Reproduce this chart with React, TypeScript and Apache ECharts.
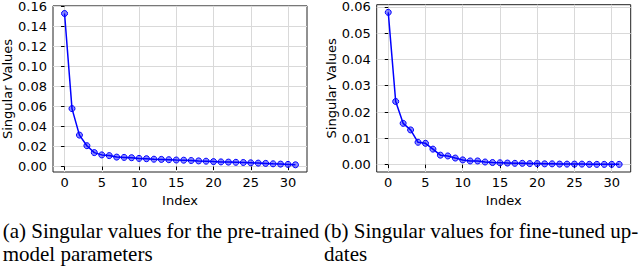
import React, { useEffect, useRef } from "react";
import * as echarts from "echarts";

const indices: number[] = Array.from({ length: 32 }, (_, i) => i);
const pretrained: number[] = [
  0.153, 0.0579, 0.0314, 0.0208, 0.0139, 0.0116, 0.0109, 0.0094, 0.0091, 0.0088,
  0.0081, 0.0078, 0.0073, 0.0071, 0.0068, 0.0065, 0.0063, 0.006, 0.0056, 0.0053,
  0.0049, 0.0046, 0.0044, 0.0042, 0.004, 0.0037, 0.0034, 0.0031, 0.0027, 0.0024,
  0.0021, 0.0017,
];
const finetuned: number[] = [
  0.0579, 0.024, 0.0157, 0.0132, 0.0085, 0.0081, 0.0059, 0.0036, 0.0033, 0.0025,
  0.0018, 0.0014, 0.0014, 0.001, 0.0008, 0.0007, 0.0006, 0.0005, 0.0005, 0.0004,
  0.0004, 0.0003, 0.0003, 0.0002, 0.0002, 0.0002, 0.0002, 0.0001, 0.0001, 0.0001,
  0.0001, 0.0001,
];
const xTicks: number[] = [0, 5, 10, 15, 20, 25, 30];
const yTicksA: number[] = [0, 0.02, 0.04, 0.06, 0.08, 0.1, 0.12, 0.14, 0.16];
const yTicksB: number[] = [0, 0.01, 0.02, 0.03, 0.04, 0.05, 0.06];
const captionA: string[] = ["(a) Singular values for the pre-trained", "model parameters"];
const captionB: string[] = ["(b) Singular values for fine-tuned up-", "dates"];

const FONT = "DejaVu Sans";
const SERIF = "Liberation Serif";

function xAxis(gridIndex: number) {
  return {
    type: "value",
    gridIndex,
    min: -1.55,
    max: 32.55,
    name: "Index",
    nameLocation: "middle",
    nameGap: 19,
    nameTextStyle: { fontFamily: FONT, fontSize: 13, color: "#000" },
    axisLine: { show: false },
    axisTick: { show: true, length: 3.5, lineStyle: { color: "#000", width: 1 }, customValues: xTicks },
    axisLabel: { customValues: xTicks, fontFamily: FONT, fontSize: 13, color: "#000", margin: 4 },
    splitLine: { show: true, lineStyle: { color: "#d9d9d9", width: 1 } },
  };
}

function yAxis(gridIndex: number, min: number, max: number, ticks: number[], gap: number) {
  return {
    type: "value",
    gridIndex,
    min,
    max,
    name: "Singular Values",
    nameLocation: "middle",
    nameGap: gap,
    nameTextStyle: { fontFamily: FONT, fontSize: 13, color: "#000" },
    axisLine: { show: false },
    axisTick: { show: true, length: 3.5, lineStyle: { color: "#000", width: 1 }, customValues: ticks },
    axisLabel: {
      customValues: ticks,
      fontFamily: FONT,
      fontSize: 13,
      color: "#000",
      margin: 6,
      formatter: (v: number) => v.toFixed(2),
    },
    splitLine: { show: true, lineStyle: { color: "#d9d9d9", width: 1 } },
  };
}

function series(idx: number, values: number[]) {
  return {
    type: "line",
    xAxisIndex: idx,
    yAxisIndex: idx,
    data: indices.map((i) => [i, values[i]]),
    symbol: "circle",
    symbolSize: 6,
    lineStyle: { color: "#0000ff", width: 1.5 },
    itemStyle: { color: "rgba(0,0,255,0.45)", borderColor: "#0000ff", borderWidth: 1 },
  };
}

function caption(lines: string[], x: number, y: number) {
  return {
    type: "text",
    x,
    y,
    style: {
      text: lines.join("\n"),
      fontFamily: SERIF,
      fontSize: 21,
      lineHeight: 23.5,
      fill: "#000",
      align: "left",
      verticalAlign: "top",
    },
  };
}

export default function App() {
  const ref = useRef<HTMLDivElement>(null);
  useEffect(() => {
    if (!ref.current) return;
    const chart = echarts.init(ref.current, undefined, { renderer: "svg" });
    chart.setOption({
      animation: false,
      backgroundColor: "#fff",
      grid: [
        { left: 53, top: 4.7, width: 254, height: 167.3, show: true, borderColor: "#222", borderWidth: 1, backgroundColor: "transparent" },
        { left: 376.7, top: 4.7, width: 254, height: 167.3, show: true, borderColor: "#222", borderWidth: 1, backgroundColor: "transparent" },
      ],
      xAxis: [xAxis(0), xAxis(1)],
      yAxis: [
        yAxis(0, -0.0055, 0.1606, yTicksA, 37),
        yAxis(1, -0.0028, 0.0608, yTicksB, 39),
      ],
      series: [series(0, pretrained), series(1, finetuned)],
      graphic: [
        caption(captionA, 2.7, 218.75),
        caption(captionB, 324, 218.75),
      ],
    });
    return () => chart.dispose();
  }, []);
  return <div ref={ref} style={{ position: "fixed", left: 0, top: 0, width: 640, height: 268 }} />;
}
